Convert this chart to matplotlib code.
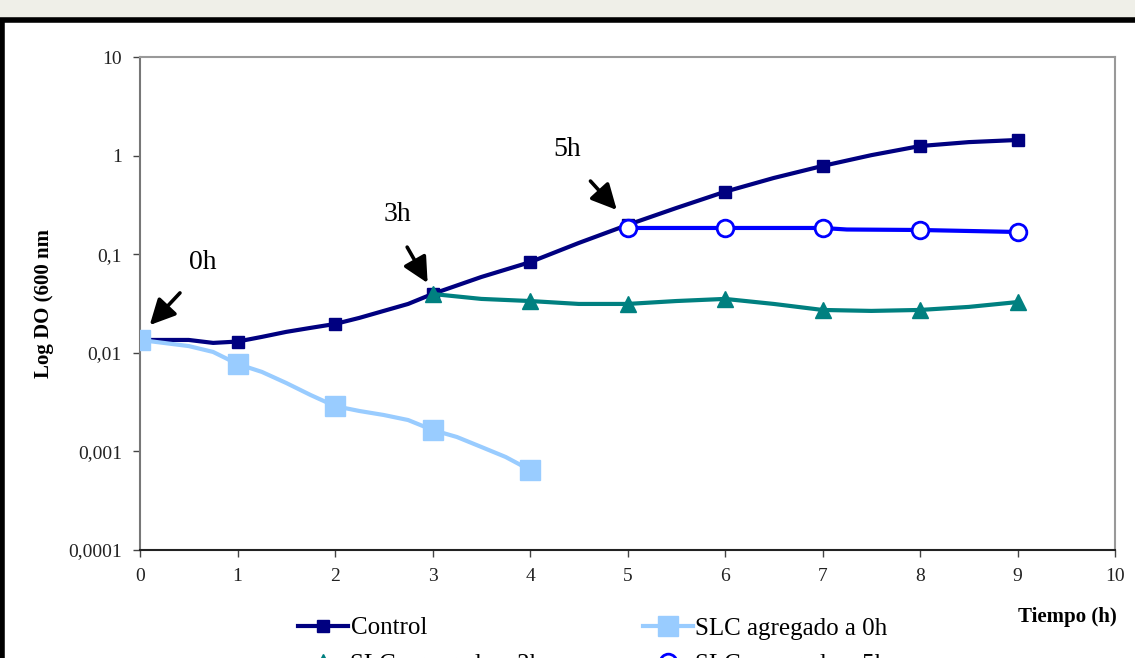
import numpy as np
import matplotlib.pyplot as plt
from matplotlib.patches import Rectangle
from matplotlib.ticker import FixedLocator, FixedFormatter, NullLocator

# data
t_ctrl = [0, 0.25, 0.5, 0.75, 1, 1.25, 1.5, 1.75, 2, 2.25, 2.5, 2.75, 3, 3.5, 4,
          4.5, 5, 5.5, 6, 6.5, 7, 7.5, 8, 8.5, 9]
do_ctrl = [0.0135, 0.0135, 0.0135, 0.0126, 0.0130, 0.0145, 0.0163, 0.0179, 0.0196,
           0.0226, 0.0266, 0.0313, 0.0395, 0.0587, 0.083, 0.130, 0.198, 0.294,
           0.43, 0.593, 0.785, 1.01, 1.25, 1.37, 1.44]
mk_ctrl = [0, 4, 8, 12, 14, 16, 18, 20, 22, 24]

t_0h = [0, 0.5, 0.75, 1, 1.25, 1.5, 1.75, 2, 2.25, 2.5, 2.75, 3, 3.25, 3.5, 3.75, 4]
do_0h = [0.0135, 0.0117, 0.0102, 0.0077, 0.0064, 0.00494, 0.00373, 0.00288,
         0.00257, 0.00234, 0.00208, 0.00165, 0.0014, 0.00111, 0.000878, 0.000648]
mk_0h = [0, 3, 7, 11, 15]

t_3h = [3, 3.5, 4, 4.5, 5, 5.5, 6, 6.5, 7, 7.5, 8, 8.5, 9]
do_3h = [0.0395, 0.0352, 0.0335, 0.0313, 0.0313, 0.0335, 0.0352, 0.0313, 0.0272,
         0.0266, 0.0272, 0.0292, 0.0327]
mk_3h = [0, 2, 4, 6, 8, 10, 12]

t_5h = [5, 6, 7, 7.25, 8, 9]
do_5h = [0.1845, 0.1845, 0.1845, 0.178, 0.176, 0.168]
mk_5h = [0, 1, 2, 4, 5]

y_ticks = [0.0001, 0.001, 0.01, 0.1, 1, 10]
y_labels = ["0,0001", "0,001", "0,01", "0,1", "1", "10"]
x_ticks = list(range(11))

# arrows: (label, text pos, arrow tail, arrow tip)
notes = [("0h", (0.64, 0.083), (0.41, 0.0405), (0.10, 0.0191)),
         ("3h", (2.64, 0.25), (2.74, 0.118), (2.95, 0.051)),
         ("5h", (4.38, 1.14), (4.62, 0.552), (4.89, 0.281))]

plt.rcParams['font.family'] = ['Liberation Serif', 'DejaVu Serif']

fig = plt.figure(figsize=(11.35, 6.58), dpi=100)
fig.patch.set_facecolor('#efefe8')
top = 1 - 20.5 / 658
fig.patches.append(Rectangle((0.002, -0.05), 1.1, top + 0.05,
                             transform=fig.transFigure, facecolor='white',
                             edgecolor='black', linewidth=4, zorder=-5))

ax = fig.add_axes([140 / 1135, 108 / 658, 975 / 1135, 493 / 658])
ax.set_facecolor('white')
ax.set_yscale('log')
ax.set_ylim(0.0001, 10)
ax.set_xlim(0, 10)

l_ctrl, = ax.plot(t_ctrl, do_ctrl, color='#000080', lw=3, marker='s', ms=9,
                  markevery=mk_ctrl, label='Control', zorder=3)
l_0h, = ax.plot(t_0h, do_0h, color='#99ccff', lw=3, marker='s', ms=14,
                markevery=mk_0h, label='SLC agregado a 0h', zorder=4)
l_3h, = ax.plot(t_3h, do_3h, color='#008080', lw=3, marker='^', ms=11,
                markevery=mk_3h, label='SLC agregado a 3h', zorder=4)
l_5h, = ax.plot(t_5h, do_5h, color='#0000ff', lw=3, marker='o', ms=12,
                markerfacecolor='white', markeredgewidth=2, markevery=mk_5h,
                label='SLC agregado a 5h', zorder=5)

for lab, tp, tail, tip in notes:
    ax.text(tp[0], tp[1], lab, fontsize=20, ha='center', va='center')
    ax.annotate('', xy=tip, xytext=tail,
                arrowprops=dict(arrowstyle='-|>,head_width=0.35,head_length=0.7',
                                mutation_scale=22, color='black', lw=2.6,
                                shrinkA=0, shrinkB=0))

ax.yaxis.set_major_locator(FixedLocator(y_ticks))
ax.yaxis.set_major_formatter(FixedFormatter(y_labels))
ax.yaxis.set_minor_locator(NullLocator())
ax.set_xticks(x_ticks)
ax.tick_params(axis='both', direction='out', length=5, width=1, colors='#444444',
               labelsize=14, labelcolor='#222222', pad=8)

for s in ['top', 'right']:
    ax.spines[s].set_color('#999999')
    ax.spines[s].set_linewidth(1.5)
ax.spines['left'].set_color('#777777')
ax.spines['left'].set_linewidth(1.5)
ax.spines['bottom'].set_color('#222222')
ax.spines['bottom'].set_linewidth(1.5)

ax.set_ylabel('Log DO (600 nm', fontsize=15, fontweight='bold', labelpad=10)
fig.text(1067 / 1135, 1 - 617 / 658, 'Tiempo (h)', fontsize=15,
         fontweight='bold', ha='center', va='center')

ax.legend(handles=[l_ctrl, l_3h, l_0h, l_5h],
          loc='upper left', bbox_to_anchor=(298 / 1135, 1 - 617 / 658),
          bbox_transform=fig.transFigure, ncol=2, frameon=False, fontsize=18,
          handlelength=2.0, handletextpad=0.1, columnspacing=4.0,
          labelspacing=0.55, borderaxespad=0, borderpad=0)

fig.savefig('out.png', dpi=100, facecolor=fig.get_facecolor())
